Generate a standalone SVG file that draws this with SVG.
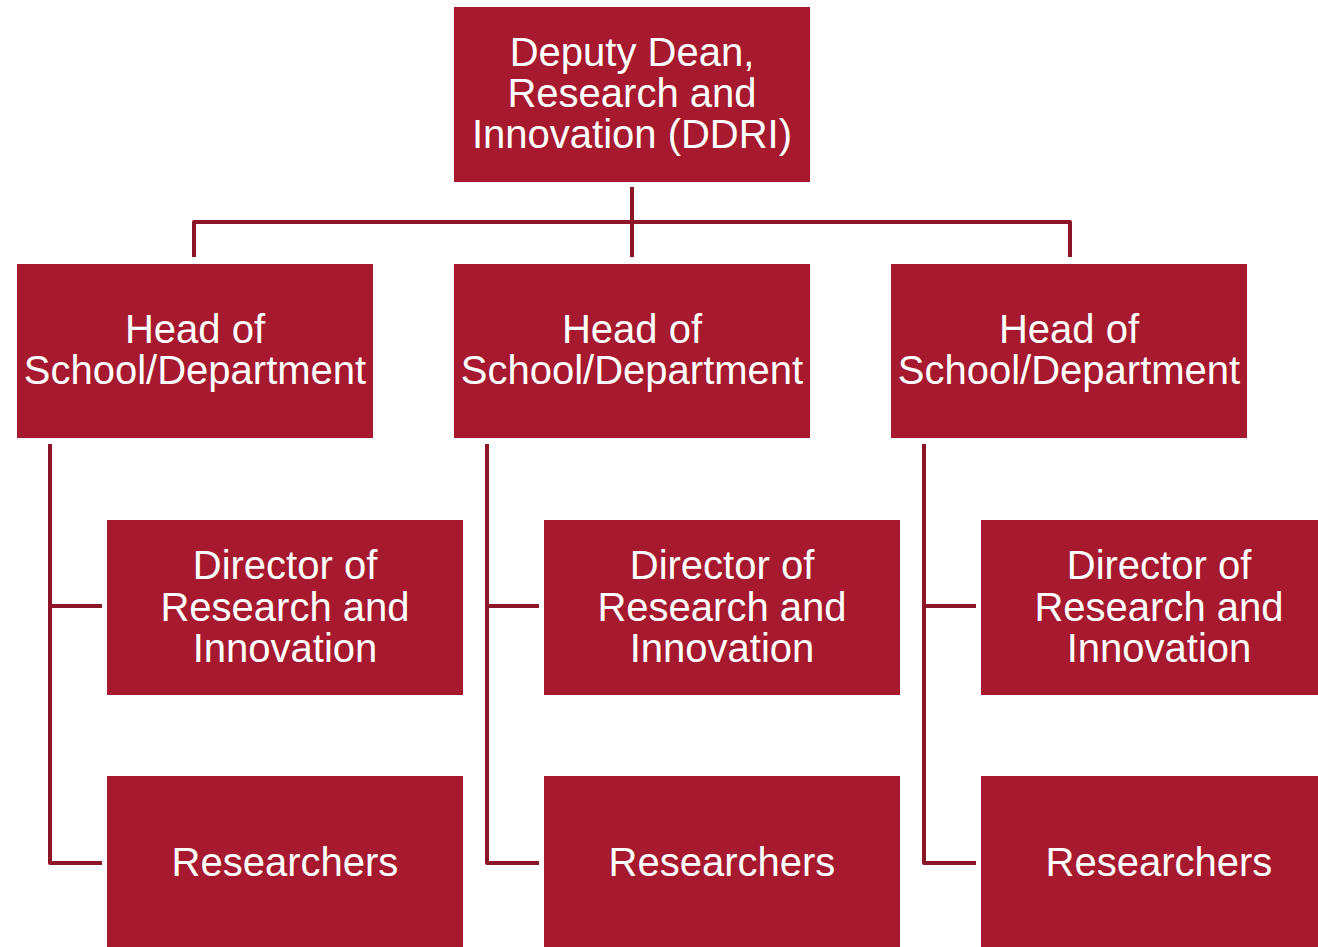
<svg xmlns="http://www.w3.org/2000/svg" width="1318" height="947" viewBox="0 0 1318 947">
<style>
.box{fill:#A6192E;}
.t{fill:#ffffff;font-family:"Liberation Sans",Arial,sans-serif;font-size:40px;text-anchor:middle;}
.c{fill:none;stroke:#8C1628;stroke-width:4;stroke-linejoin:round;}
</style>
<rect width="1318" height="947" fill="#ffffff"/>
<g id="connectors">
<path class="c" d="M632 187V257M194 257V222H1070V257"/>
<path class="c" d="M50 444V863H102M50 606H102"/>
<path class="c" d="M487 444V863H539M487 606H539"/>
<path class="c" d="M924 444V863H976M924 606H976"/>
</g>
<g id="ddri"><rect class="box" x="454" y="7" width="356" height="175"/>
<text class="t" x="632" y="66">Deputy Dean,</text><text class="t" x="632" y="107">Research and</text><text class="t" x="632" y="148">Innovation (DDRI)</text></g>
<g id="head1"><rect class="box" x="17" y="264" width="356" height="174"/>
<text class="t" x="195" y="343">Head of</text><text class="t" x="195" y="384">School/Department</text></g>
<g id="head2"><rect class="box" x="454" y="264" width="356" height="174"/>
<text class="t" x="632" y="343">Head of</text><text class="t" x="632" y="384">School/Department</text></g>
<g id="head3"><rect class="box" x="891" y="264" width="356" height="174"/>
<text class="t" x="1069" y="343">Head of</text><text class="t" x="1069" y="384">School/Department</text></g>
<g id="dir1"><rect class="box" x="107" y="520" width="356" height="175"/>
<text class="t" x="285" y="579">Director of</text><text class="t" x="285" y="621">Research and</text><text class="t" x="285" y="662">Innovation</text></g>
<g id="dir2"><rect class="box" x="544" y="520" width="356" height="175"/>
<text class="t" x="722" y="579">Director of</text><text class="t" x="722" y="621">Research and</text><text class="t" x="722" y="662">Innovation</text></g>
<g id="dir3"><rect class="box" x="981" y="520" width="356" height="175"/>
<text class="t" x="1159" y="579">Director of</text><text class="t" x="1159" y="621">Research and</text><text class="t" x="1159" y="662">Innovation</text></g>
<g id="res1"><rect class="box" x="107" y="776" width="356" height="175"/>
<text class="t" x="285" y="876">Researchers</text></g>
<g id="res2"><rect class="box" x="544" y="776" width="356" height="175"/>
<text class="t" x="722" y="876">Researchers</text></g>
<g id="res3"><rect class="box" x="981" y="776" width="356" height="175"/>
<text class="t" x="1159" y="876">Researchers</text></g>
</svg>
